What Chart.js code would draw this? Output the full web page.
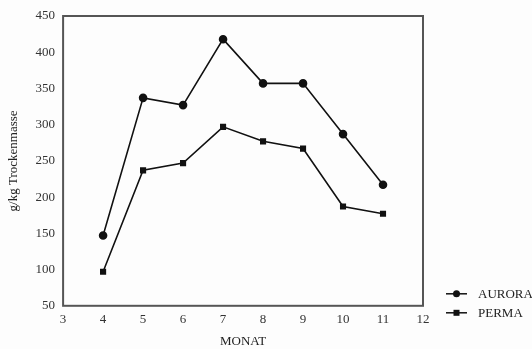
<!DOCTYPE html>
<html>
<head>
<meta charset="utf-8">
<script src="https://cdn.jsdelivr.net/npm/chart.js@4/dist/chart.umd.min.js"></script>
<style>
  html, body { margin: 0; padding: 0; background: #fdfdfd; }
  #wrap { position: relative; width: 532px; height: 349px; }
</style>
</head>
<body>
<div id="wrap"><canvas id="chart" width="532" height="349"></canvas></div>
<script>
var months = [4, 5, 6, 7, 8, 9, 10, 11];
var aurora = [147, 337, 327, 418, 357, 357, 287, 217];
var perma = [97, 237, 247, 297, 277, 267, 187, 177];
var yTicks = [50, 450, 50]; // min, max, step
var xTicks = [3, 12, 1];

function pts(values) {
  return months.map(function (m, i) { return { x: m, y: values[i] }; });
}

var serif = 'Liberation Serif';

// frame round the plot area
var frame = {
  id: 'frame',
  afterDraw: function (chart) {
    var a = chart.chartArea, ctx = chart.ctx;
    ctx.save();
    ctx.strokeStyle = '#555';
    ctx.lineWidth = 2;
    ctx.strokeRect(a.left, a.top, a.right - a.left, a.bottom - a.top);
    ctx.restore();
  }
};

// legend below-right of the plot: line + marker, then the label
var sideLegend = {
  id: 'sideLegend',
  afterDraw: function (chart) {
    var a = chart.chartArea, ctx = chart.ctx;
    var x0 = a.right + 23, y0 = a.bottom - 12;
    ctx.save();
    ctx.font = '13px "' + serif + '"';
    ctx.textBaseline = 'middle';
    chart.data.datasets.forEach(function (ds, i) {
      var y = y0 + i * 19;
      ctx.strokeStyle = '#111';
      ctx.lineWidth = 1.5;
      ctx.beginPath(); ctx.moveTo(x0, y); ctx.lineTo(x0 + 21, y); ctx.stroke();
      ctx.fillStyle = '#111';
      if (ds.pointStyle === 'circle') {
        ctx.beginPath(); ctx.arc(x0 + 10.5, y, 3.5, 0, Math.PI * 2); ctx.fill();
      } else {
        ctx.fillRect(x0 + 7.5, y - 3, 6, 6);
      }
      ctx.fillStyle = '#222';
      ctx.fillText(ds.label, x0 + 32, y + 1);
    });
    ctx.restore();
  }
};

new Chart(document.getElementById('chart'), {
  type: 'line',
  data: {
    datasets: [{
      label: 'AURORA',
      data: pts(aurora),
      borderColor: '#111',
      backgroundColor: '#111',
      borderWidth: 1.6,
      pointStyle: 'circle',
      pointRadius: 3.5,
    }, {
      label: 'PERMA',
      data: pts(perma),
      borderColor: '#111',
      backgroundColor: '#111',
      borderWidth: 1.6,
      pointStyle: 'rect',
      pointRadius: 3.2,
    }],
  },
  options: {
    responsive: false,
    animation: false,
    layout: { padding: { top: 16, right: 109, bottom: 0, left: 6 } },
    plugins: {
      legend: { display: false },
      tooltip: { enabled: false },
    },
    scales: {
      x: {
        type: 'linear',
        min: xTicks[0],
        max: xTicks[1],
        grid: { display: false, drawTicks: false },
        border: { display: false },
        ticks: { stepSize: xTicks[2], color: '#333', font: { family: serif, size: 13 }, padding: 6 },
        title: { display: true, text: 'MONAT', color: '#222', font: { family: serif, size: 13 }, padding: { top: 0, bottom: 0 } },
      },
      y: {
        min: yTicks[0],
        max: yTicks[1],
        grid: { display: false, drawTicks: false },
        border: { display: false },
        ticks: { stepSize: yTicks[2], color: '#333', font: { family: serif, size: 13 }, padding: 8 },
        title: { display: true, text: 'g/kg Trockenmasse', color: '#222', font: { family: serif, size: 13 }, padding: { top: 0, bottom: 6 } },
      },
    },
  },
  plugins: [frame, sideLegend],
});
</script>
</body>
</html>
